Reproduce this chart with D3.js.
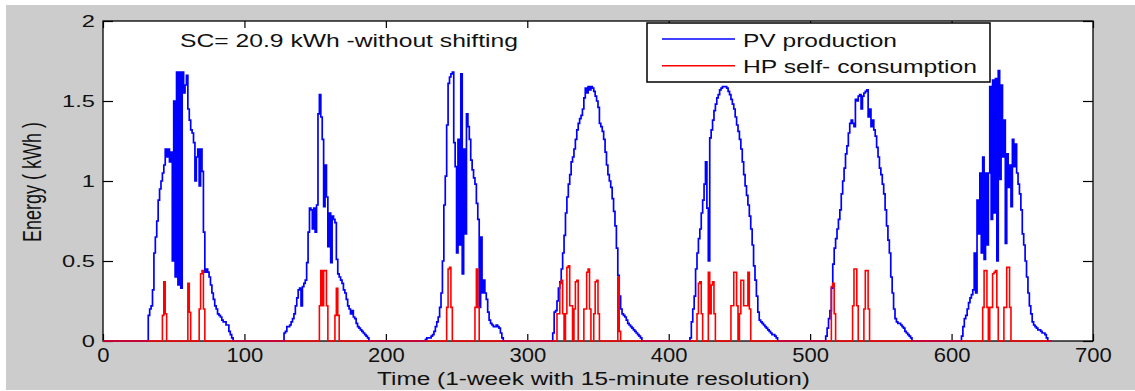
<!DOCTYPE html>
<html><head><meta charset="utf-8">
<script src="https://cdn.jsdelivr.net/npm/d3@7"></script>
<style>
html,body{margin:0;padding:0;background:#fff;}
svg{display:block;}
text{font-family:"Liberation Sans",Arial,sans-serif;fill:#111;}
</style>
</head><body>
<svg id="chart" width="1135" height="391"></svg>
<script>
// ---------- data ----------
const nPoints = 672; // 1 week, 15-minute resolution
const xTickValues = [0,100,200,300,400,500,600,700];
const yTickValues = [0,0.5,1,1.5,2];
const yTickLabels = ["0","0.5","1","1.5","2"];
const seriesNames = ["PV production","HP self- consumption"];
const annotation = "SC= 20.9 kWh -without shifting";
const xLabel = "Time (1-week with 15-minute resolution)";
const yLabel = "Energy ( kWh )";

// PV production: daylight windows (start index + values), zero at night
const pvStarts = [32,128,228,318,415,511,607];
const pvDay1 = [0.16,0.20,0.22,0.32,0.55,0.65,0.75,0.88,0.95,1.00,1.05,1.10,1.20,1.15,1.20,1.12,1.18,0.50,1.50,0.40,1.68,0.35,1.68,0.33,1.68,1.55,1.60,1.66,1.45,1.38,1.32,1.30,1.24,1.00,1.15,1.20,0.97,1.20,1.06,0.68,0.43,0.45,0.43,0.40,0.35,0.30,0.26,0.22,0.20,0.17,0.16,0.15,0.13,0.12,0.12,0.10,0.10,0.06,0.04,0.02];
const pvDay2 = [0.05,0.06,0.09,0.09,0.10,0.12,0.14,0.17,0.22,0.27,0.32,0.33,0.22,0.34,0.36,0.38,0.49,0.68,0.83,0.82,0.70,0.83,0.68,0.85,1.42,1.54,1.40,1.26,0.84,1.10,0.90,0.59,0.80,0.49,0.78,0.76,0.74,0.51,0.42,0.40,0.38,0.36,0.32,0.30,0.26,0.22,0.20,0.17,0.19,0.15,0.14,0.11,0.09,0.08,0.07,0.06,0.05,0.04,0.03,0.02];
const pvDay3 = [0.01,0.02,0.02,0.02,0.03,0.04,0.06,0.09,0.12,0.15,0.21,0.30,0.50,0.85,1.03,1.35,1.61,1.65,1.67,1.68,1.24,1.09,0.55,1.26,0.60,1.67,0.42,1.20,0.67,1.42,1.34,1.26,1.13,1.07,1.02,0.98,0.86,0.76,0.21,0.65,0.30,0.38,0.30,0.26,0.18,0.13,0.11,0.10,0.09,0.09,0.10,0.09,0.08,0.05,0.02];
const pvDay4 = [0.05,0.18,0.19,0.25,0.33,0.37,0.45,0.55,0.66,0.80,0.90,0.98,1.04,1.12,1.15,1.20,1.26,1.32,1.36,1.39,1.41,1.45,1.52,1.58,1.55,1.59,1.57,1.59,1.58,1.56,1.53,1.50,1.46,1.36,1.34,1.31,1.26,1.18,1.10,1.04,1.00,0.96,0.89,0.81,0.72,0.58,0.41,0.28,0.20,0.17,0.16,0.15,0.13,0.11,0.10,0.09,0.08,0.07,0.06,0.05,0.04,0.03,0.02];
const pvDay5 = [0.02,0.12,0.20,0.28,0.45,0.55,0.64,0.70,0.80,0.88,0.98,1.12,0.83,0.50,1.27,1.32,1.38,1.44,1.48,1.52,1.54,1.57,1.58,1.59,1.59,1.59,1.58,1.56,1.54,1.51,1.48,1.45,1.40,1.35,1.31,1.26,1.20,1.12,1.04,0.97,0.91,0.85,0.78,0.70,0.60,0.47,0.38,0.28,0.18,0.13,0.12,0.11,0.10,0.09,0.08,0.07,0.06,0.05,0.04,0.04,0.03,0.02];
const pvDay6 = [0.03,0.08,0.14,0.19,0.33,0.48,0.58,0.64,0.70,0.76,0.82,0.92,1.00,1.08,1.17,1.22,1.30,1.36,1.38,1.36,1.34,1.51,1.50,1.53,1.54,1.45,1.53,1.55,1.56,1.57,1.40,1.45,1.34,1.38,1.32,1.28,1.21,1.15,1.08,1.04,0.98,0.92,0.82,0.72,0.63,0.55,0.40,0.30,0.20,0.14,0.12,0.11,0.11,0.10,0.09,0.08,0.06,0.05,0.04,0.03,0.02];
const pvDay7 = [0.03,0.09,0.14,0.16,0.20,0.24,0.27,0.29,0.32,0.55,0.30,0.88,0.67,1.05,0.55,1.15,0.51,1.05,0.60,1.05,1.59,0.76,1.63,0.80,1.64,0.50,1.69,1.01,1.60,1.15,1.38,0.61,1.17,0.96,1.10,0.84,1.26,1.09,1.23,1.05,0.98,0.92,0.82,0.67,0.60,0.50,0.40,0.30,0.22,0.17,0.12,0.10,0.09,0.08,0.07,0.07,0.06,0.05,0.05,0.04,0.02];

// HP self-consumption: short spikes (start index + values), zero elsewhere
const hpStarts = [42,60,68,153,164,243,263,321,340,364,420,428,444,515,530,538,622,637];
const hpValues = [
  [0.16,0.37,0.17],
  [0.36,0.18],
  [0.20,0.42,0.44,0.20],
  [0.22,0.44,0.22,0.44,0.44,0.22],
  [0.16,0.33,0.16],
  [0.21,0.45,0.46,0.21],
  [0.21,0.45,0.21],
  [0.17,0.17,0.36,0.38,0.17,0,0.17,0.46,0.47,0.22,0.22,0,0.20,0.37,0.38],
  [0.20,0.20,0.43,0.45,0.20,0,0,0.17,0.37,0.38,0.17],
  [0.40,0.06],
  [0.17,0.36,0.37,0.17],
  [0.43,0.17,0.35,0.37,0.17],
  [0.22,0.22,0.43,0.43,0.22,0,0.17,0.38,0.38,0.22,0.22,0.22,0.43,0.20],
  [0.34,0.36,0.17],
  [0.22,0.45,0.45,0.22],
  [0.20,0.44,0.44,0.20],
  [0.21,0.44,0.44,0.21,0,0.21,0.21,0.42,0.43,0.44,0.21],
  [0.21,0.21,0.46,0.46,0.21]
];

// ---------- build ----------
function build(starts, parts){
  const arr = new Array(nPoints).fill(0);
  parts.forEach((p,i)=>p.forEach((v,j)=>{ arr[starts[i]+j] = v; }));
  return arr;
}
const pv = build(pvStarts,[pvDay1,pvDay2,pvDay3,pvDay4,pvDay5,pvDay6,pvDay7]);
const hp = build(hpStarts,hpValues);

// ---------- draw ----------
const svg = d3.select("#chart");
svg.append("rect").attr("x",6).attr("y",5).attr("width",1129).attr("height",385).attr("fill","#cccccc");

const m = {left:103, top:21, right:1093, bottom:341};
const x = d3.scaleLinear().domain([0,700]).range([m.left,m.right]);
const y = d3.scaleLinear().domain([0,2]).range([m.bottom,m.top]);

svg.append("rect").attr("x",m.left).attr("y",m.top)
  .attr("width",m.right-m.left).attr("height",m.bottom-m.top)
  .attr("fill","#fff").attr("stroke","#000").attr("stroke-width",1.3);

function clean(g){ g.attr("font-size",null).attr("font-family",null); g.select(".domain").remove(); g.selectAll("line").attr("stroke","#000").attr("stroke-width",1.2); }

const gxB = svg.append("g").attr("transform",`translate(0,${m.bottom})`)
  .call(d3.axisBottom(x).tickValues(xTickValues).tickSizeInner(-7).tickSizeOuter(0).tickPadding(6));
clean(gxB);
gxB.selectAll("text").attr("font-size",21).attr("transform","scale(1.05,1)");

const gxT = svg.append("g").attr("transform",`translate(0,${m.top})`)
  .call(d3.axisTop(x).tickValues(xTickValues).tickSizeInner(-7).tickSizeOuter(0).tickFormat(""));
clean(gxT);

const gyL = svg.append("g").attr("transform",`translate(${m.left},0)`)
  .call(d3.axisLeft(y).tickValues(yTickValues).tickSizeInner(-10).tickSizeOuter(0).tickPadding(8)
    .tickFormat((d,i)=>yTickLabels[i]));
clean(gyL);
gyL.selectAll("text").attr("font-size",16).attr("x",0).attr("transform","translate(-8,0) scale(1.48,1)");

const gyR = svg.append("g").attr("transform",`translate(${m.right},0)`)
  .call(d3.axisRight(y).tickValues(yTickValues).tickSizeInner(-10).tickSizeOuter(0).tickFormat(""));
clean(gyR);

const line = d3.line().x((d,i)=>x(i)).y(d=>y(d)).curve(d3.curveStepAfter);
svg.append("path").datum(pv).attr("d",line).attr("fill","none").attr("stroke","#0000ff").attr("stroke-width",1.7);
svg.append("path").datum(hp).attr("d",line).attr("fill","none").attr("stroke","#ff0000").attr("stroke-width",1.6);

// annotation
svg.append("text").attr("x",180).attr("y",47).attr("font-size",18)
  .attr("textLength",338).attr("lengthAdjust","spacingAndGlyphs").text(annotation);

// legend
const lg = svg.append("g");
lg.append("rect").attr("x",647).attr("y",23).attr("width",343).attr("height",59)
  .attr("fill","#fff").attr("stroke","#000").attr("stroke-width",1.5);
const legColors = ["#0000ff","#ff0000"];
const legY = [39,65.7];
const legLen = [154,234];
seriesNames.forEach((n,i)=>{
  lg.append("line").attr("x1",662).attr("x2",735).attr("y1",legY[i]).attr("y2",legY[i])
    .attr("stroke",legColors[i]).attr("stroke-width",1.5);
  lg.append("text").attr("x",743).attr("y",legY[i]+7.5).attr("font-size",18)
    .attr("textLength",legLen[i]).attr("lengthAdjust","spacingAndGlyphs").text(n);
});

// axis labels
svg.append("text").attr("x",377).attr("y",385).attr("font-size",18)
  .attr("textLength",433).attr("lengthAdjust","spacingAndGlyphs").text(xLabel);
svg.append("text").attr("text-anchor","middle").attr("font-size",18)
  .attr("transform","translate(41,182) scale(1.45,1) rotate(-90)").text(yLabel);
</script>
</body></html>
